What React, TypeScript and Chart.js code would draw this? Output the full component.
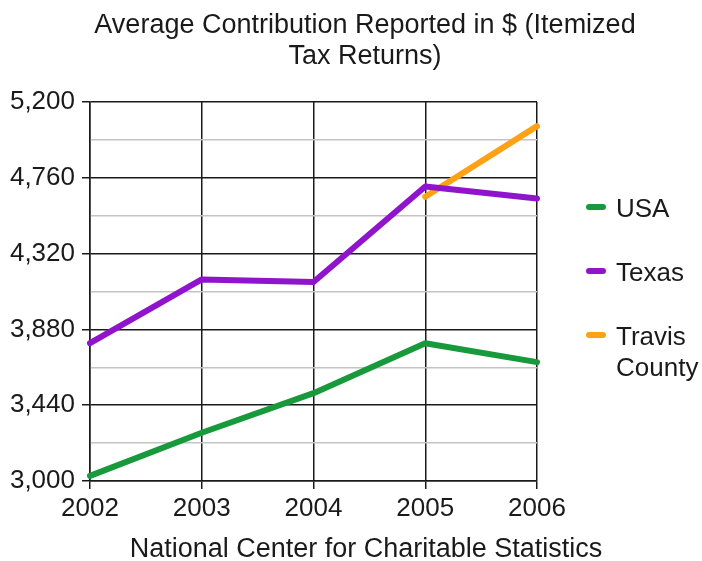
import React, { useEffect, useRef } from 'react';
import { Chart, registerables } from 'chart.js';

Chart.register(...registerables);

const years = ['2002', '2003', '2004', '2005', '2006'];
const usaValues = [3030, 3280, 3510, 3800, 3690];
const texasValues = [3800, 4170, 4155, 4710, 4640];
const travisValues = [null, null, null, 4650, 5060];
const seriesNames = ['USA', 'Texas', 'Travis County'];
const legendLines = [['USA'], ['Texas'], ['Travis', 'County']];
const seriesColors = ['#189a3c', '#9014cc', '#ffa114'];
const titleLines = ['Average Contribution Reported in $ (Itemized', 'Tax Returns)'];
const caption = 'National Center for Charitable Statistics';
const yMin = 3000;
const yMax = 5200;
const yStep = 220;
const yLabelStep = 440;

const FONT = '"Liberation Sans", Arial, Helvetica, sans-serif';
const INK = '#1a1a1a';
const MAJOR = '#1a1a1a';
const MINOR = '#c4c4c4';

const isMajor = (v: number) => Math.abs((v - yMin) % yLabelStep) < 1e-6;

const decorPlugin = {
  id: 'decor',
  afterDraw(chart: any) {
    const ctx = chart.ctx as CanvasRenderingContext2D;
    const a = chart.chartArea;
    ctx.save();
    ctx.fillStyle = INK;
    ctx.textAlign = 'center';
    ctx.textBaseline = 'alphabetic';
    ctx.font = `27px ${FONT}`;
    const cx = 365;
    titleLines.forEach((t, i) => ctx.fillText(t, cx, 33 + i * 31));
    ctx.fillText(caption, cx + 1, 557);

    ctx.font = `26px ${FONT}`;
    ctx.textAlign = 'left';
    const markX = a.right + 49;
    let base = 217;
    chart.data.datasets.forEach((ds: any, i: number) => {
      const lines = legendLines[i];
      ctx.strokeStyle = ds.borderColor;
      ctx.lineWidth = 6;
      ctx.lineCap = 'round';
      ctx.beginPath();
      ctx.moveTo(markX + 3, base - 10);
      ctx.lineTo(markX + 17, base - 10);
      ctx.stroke();
      lines.forEach((l, j) => ctx.fillText(l, markX + 30, base + j * 31));
      base += lines.length * 31 + 33;
    });
    ctx.restore();
  },
};

export default function App() {
  const ref = useRef<HTMLCanvasElement | null>(null);
  useEffect(() => {
    if (!ref.current) return;
    const values = [usaValues, texasValues, travisValues];
    const chart = new Chart(ref.current, {
      type: 'line',
      data: {
        labels: years,
        datasets: values.map((v, i) => ({
          label: seriesNames[i],
          data: v,
          borderColor: seriesColors[i],
          backgroundColor: seriesColors[i],
          borderWidth: 6,
          borderCapStyle: 'round',
          borderJoinStyle: 'round',
          pointRadius: 0,
          pointHoverRadius: 0,
          tension: 0,
          fill: false,
        })),
      },
      options: {
        animation: false,
        responsive: false,
        maintainAspectRatio: false,
        layout: { padding: { top: 102, left: 10, right: 165, bottom: 38 } },
        plugins: {
          legend: { display: false },
          title: { display: false },
          tooltip: { enabled: false },
        },
        scales: {
          x: {
            type: 'category',
            offset: false,
            afterFit: (s: any) => { s.height = 42; },
            grid: { color: MAJOR, lineWidth: 1.5, tickLength: 8, tickColor: MAJOR, drawOnChartArea: true },
            border: { color: MAJOR, width: 1.5 },
            ticks: {
              color: INK,
              font: { family: FONT, size: 26 },
              padding: 4,
              autoSkip: false,
              maxRotation: 0,
            },
          },
          y: {
            min: yMin,
            max: yMax,
            afterFit: (s: any) => { s.width = 80; },
            afterBuildTicks: (s: any) => {
              const t = [];
              for (let v = yMin; v <= yMax; v += yStep) t.push({ value: v });
              s.ticks = t;
            },
            grid: {
              color: (c: any) => (c.tick && isMajor(c.tick.value) ? MAJOR : MINOR),
              tickColor: (c: any) => (c.tick && isMajor(c.tick.value) ? MAJOR : 'rgba(0,0,0,0)'),
              lineWidth: 1.5,
              tickLength: 8,
            },
            border: { color: MAJOR, width: 1.5 },
            ticks: {
              color: INK,
              font: { family: FONT, size: 26 },
              padding: 7,
              callback: (v: any) => (isMajor(Number(v)) ? Number(v).toLocaleString('en-US') : ''),
            },
          },
        },
      },
      plugins: [decorPlugin],
    } as any);
    return () => chart.destroy();
  }, []);
  return (
    <div style={{ position: 'fixed', left: 0, top: 0, width: 702, height: 561, background: '#fff' }}>
      <canvas ref={ref} width={702} height={561} style={{ display: 'block', width: 702, height: 561 }} />
    </div>
  );
}
